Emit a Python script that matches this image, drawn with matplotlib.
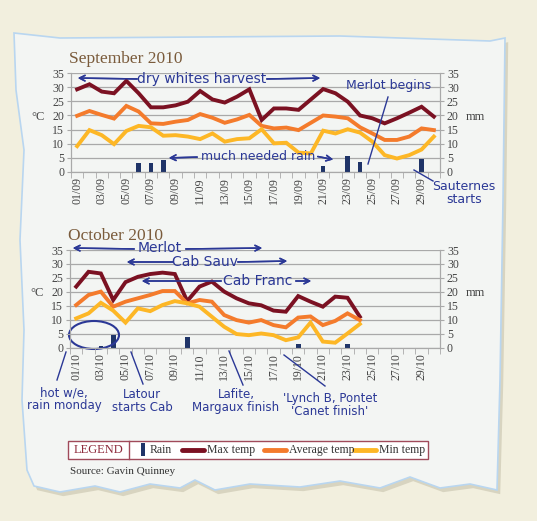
import matplotlib.pyplot as plt
import numpy as np
from matplotlib.patches import Polygon, Ellipse, Rectangle
from matplotlib.lines import Line2D

# ---- data ----
sep_days = ['%02d/09' % d for d in range(1, 31)]
sep_max = [29.3, 31.1, 28.5, 27.9, 32.3, 27.9, 22.9, 22.9, 23.6, 24.9,
           28.7, 25.7, 24.6, 26.7, 29.3, 18.4, 22.5, 22.5, 22.0, 25.7,
           29.4, 27.9, 24.9, 20.0, 19.0, 17.2, 19.0, 21.0, 23.1, 19.6]
sep_avg = [19.9, 21.6, 20.2, 18.9, 23.4, 21.4, 17.2, 17.0, 17.8, 18.4,
           20.5, 19.2, 17.4, 18.6, 20.2, 16.3, 15.4, 15.7, 14.8, 17.4,
           20.0, 19.6, 19.0, 15.8, 13.6, 11.3, 11.3, 12.5, 15.4, 14.8]
sep_min = [9.1, 14.8, 13.0, 9.8, 14.5, 16.3, 15.8, 12.8, 13.0, 12.5,
           11.6, 13.6, 10.7, 11.6, 11.9, 15.1, 10.1, 10.3, 6.8, 6.5,
           14.6, 13.6, 15.1, 13.9, 10.7, 5.9, 4.7, 5.9, 7.9, 12.5]
sep_rain = [0, 0, 0, 0, 0, 3.0, 3.0, 4.1, 0, 0,
            0, 0, 0, 0, 0, 0, 0, 0, 0, 0,
            2.1, 0, 5.6, 3.6, 0, 0, 0, 0, 4.6, 0]

oct_days = ['%02d/10' % d for d in range(1, 31)]
oct_max = [21.9, 27.2, 26.6, 17.1, 23.5, 25.4, 26.4, 26.9, 26.4, 16.7,
           21.9, 23.7, 20.1, 17.7, 15.9, 15.2, 13.3, 12.9, 18.5, 16.5,
           14.7, 18.3, 17.9, 11.1]
oct_avg = [15.3, 18.9, 20.1, 14.7, 16.5, 17.7, 18.9, 20.3, 20.3, 15.9,
           17.1, 16.5, 11.7, 9.9, 9.0, 9.9, 8.1, 7.3, 10.8, 11.2,
           8.1, 9.6, 12.3, 9.9]
oct_min = [10.5, 12.3, 16.1, 13.3, 9.0, 14.1, 13.1, 15.3, 16.7, 15.9,
           14.7, 11.1, 7.5, 4.9, 4.5, 5.1, 4.5, 2.7, 3.7, 9.0,
           2.2, 1.8, 5.1, 8.5]
oct_rain = [0, 0, 0.6, 4.5, 0, 0, 0, 0, 0, 3.7,
            0, 0, 0, 0, 0, 0, 0, 0, 1.2, 0,
            0, 0, 1.5, 0]

c_max = '#7b1122'
c_avg = '#f47b2c'
c_min = '#fdb726'
c_rain = '#1f3468'
c_pen = '#2b3896'
c_grid = '#a9a9a9'
serif = 'Liberation Serif'
hand = 'DejaVu Sans'

fig = plt.figure(figsize=(5.37, 5.21), dpi=100)
fig.patch.set_facecolor('#f2efde')

# torn paper sheet
W, H = 537.0, 521.0
edge = [(14, 33), (60, 38), (200, 37), (340, 36), (400, 38), (490, 41), (505, 38),
        (503, 200), (500, 380), (497, 490), (470, 484), (440, 488), (410, 477),
        (380, 488), (340, 481), (300, 487), (250, 484), (215, 490), (195, 480),
        (180, 488), (150, 484), (120, 492), (95, 486), (60, 492), (34, 486),
        (27, 470), (22, 400), (24, 330), (20, 240), (24, 150), (16, 90)]
shadow = Polygon([(x / W + 0.006, 1 - y / H - 0.008) for x, y in edge],
                 closed=True, transform=fig.transFigure, fc='#d8d4c0', ec='none', zorder=-2)
paper = Polygon([(x / W, 1 - y / H) for x, y in edge], closed=True,
                transform=fig.transFigure, fc='#f3f5f3', ec='#b9d6f0', lw=1.2, zorder=-1)
fig.patches.extend([shadow, paper])


def make_panel(rect, days, tmax, tavg, tmin, rain, title):
    ax = fig.add_axes(rect)
    ax2 = ax.twinx()
    n = len(days)
    x = np.arange(n)
    ax2.bar(np.arange(len(rain)), rain, width=0.38, color=c_rain, zorder=3)
    xt = np.arange(len(tmax))
    ax.plot(xt, tmax, color=c_max, lw=2.8, solid_joinstyle='miter', zorder=4)
    ax.plot(xt, tavg, color=c_avg, lw=2.8, solid_joinstyle='miter', zorder=4)
    ax.plot(xt, tmin, color=c_min, lw=2.8, solid_joinstyle='miter', zorder=4)
    for a in (ax, ax2):
        a.set_xlim(-0.5, n - 0.5)
        a.set_ylim(0, 35)
        a.set_yticks(range(0, 36, 5))
        a.tick_params(axis='y', labelsize=8.5, length=3, color=c_grid, pad=2)
        for lab in a.get_yticklabels():
            lab.set_fontfamily(serif)
            lab.set_color('#444444')
        for s in a.spines.values():
            s.set_color(c_grid)
        a.spines['top'].set_visible(False)
    ax2.set_zorder(0)
    ax2.patch.set_visible(False)
    ax2.xaxis.set_visible(False)
    ax.set_zorder(1)
    ax.patch.set_visible(False)
    ax2.grid(axis='y', color=c_grid, lw=0.9)
    ax2.set_axisbelow(True)
    ax.set_xticks(x[::2])
    ax.set_xticklabels(days[::2], rotation=90, fontsize=8.5, family=serif, color='#444444')
    ax.set_xticks(np.arange(n + 1) - 0.5, minor=True)
    ax.tick_params(axis='x', which='major', length=0, pad=4)
    ax.tick_params(axis='x', which='minor', length=4, color=c_grid)
    ax.text(-0.09, 0.53, '°C', transform=ax.transAxes, fontsize=9, family=serif,
            color='#444444', ha='center')
    ax.text(1.095, 0.53, 'mm', transform=ax.transAxes, fontsize=9, family=serif,
            color='#444444', ha='center')
    ax.text(-0.005, 1.06, title, transform=ax.transAxes, fontsize=12.5, family=serif,
            color='#7a5b3b', ha='left', va='bottom')
    return ax


def fx(px):
    return px / W


def fy(py):
    return 1 - py / H


def pen_text(x, y, s, size=9, ha='center'):
    fig.text(fx(x), fy(y), s, fontsize=size, family=hand, color=c_pen,
             ha=ha, va='center', linespacing=0.95, zorder=10)


def pen_arrow(x0, y0, x1, y1):
    fig.add_artist(plt.annotate('', xy=(fx(x1), fy(y1)), xytext=(fx(x0), fy(y0)),
                                xycoords='figure fraction',
                                arrowprops=dict(arrowstyle='->', color=c_pen, lw=1.1)))


def pen_line(x0, y0, x1, y1):
    fig.add_artist(Line2D([fx(x0), fx(x1)], [fy(y0), fy(y1)], color=c_pen, lw=1.0,
                          transform=fig.transFigure))


ax_sep = make_panel([0.1322, 0.6704, 0.6872, 0.1889], sep_days, sep_max, sep_avg,
                    sep_min, sep_rain, 'September 2010')
ax_oct = make_panel([0.1304, 0.3326, 0.6890, 0.1875], oct_days, oct_max, oct_avg,
                    oct_min, oct_rain, 'October 2010')

# September notes
pen_text(202, 79, 'dry whites harvest', 10)
pen_arrow(140, 79, 75, 78)
pen_arrow(264, 79, 323, 78)
pen_text(389, 86, 'Merlot begins', 9)
pen_line(388, 97, 368, 164)
pen_text(258, 157, 'much needed rain', 9)
pen_arrow(200, 157, 166, 158)
pen_arrow(315, 156, 336, 160)
pen_text(464, 193, 'Sauternes\nstarts', 9)
pen_line(414, 170, 433, 181)

# October notes
pen_text(160, 248, 'Merlot', 10)
pen_arrow(137, 249, 70, 248)
pen_arrow(183, 249, 265, 248)
pen_text(205, 262, 'Cab Sauv', 10)
pen_arrow(176, 262, 124, 262)
pen_arrow(235, 262, 290, 261)
pen_text(258, 281, 'Cab Franc', 10)
pen_arrow(224, 281, 139, 281)
pen_arrow(293, 281, 314, 281)
fig.add_artist(Ellipse((fx(94), fy(335)), 50 / W, 28 / H, fill=False, ec=c_pen, lw=1.5,
                       transform=fig.transFigure))
pen_line(66, 352, 57, 380)
pen_text(64, 399, 'hot w/e,\nrain monday', 8.5)
pen_line(131, 352, 143, 384)
pen_text(142, 401, 'Latour\nstarts Cab', 8.5)
pen_line(229, 351, 243, 385)
pen_text(236, 401, 'Lafite,\nMargaux finish', 8.5)
pen_line(284, 355, 325, 386)
pen_text(330, 405, "'Lynch B, Pontet\n'Canet finish'", 8.5)

# legend strip
fig.add_artist(Rectangle((fx(68), fy(459)), (428 - 68) / W, 18 / H, fc='white',
                         ec='#a04a5a', lw=1, transform=fig.transFigure, zorder=5))
fig.add_artist(Line2D([fx(129), fx(129)], [fy(459), fy(441)], color='#a04a5a', lw=1,
                      transform=fig.transFigure, zorder=6))
fig.text(fx(99), fy(450), 'LEGEND', fontsize=9, family=serif, color='#8e2b3c',
         ha='center', va='center', zorder=7)
fig.add_artist(Rectangle((fx(141), fy(456)), 4 / W, 13 / H, fc=c_rain, ec='none',
                         transform=fig.transFigure, zorder=7))
fig.text(fx(150), fy(450), 'Rain', fontsize=8.5, family=serif, color='#333333',
         va='center', zorder=7)
legend_items = [(182, 204, c_max, 'Max temp'), (264, 286, c_avg, 'Average temp'),
                (354, 376, c_min, 'Min temp')]
for x0, x1, col, lab in legend_items:
    fig.add_artist(Line2D([fx(x0), fx(x1)], [fy(450), fy(450)], color=col, lw=3.5,
                          solid_capstyle='round', transform=fig.transFigure, zorder=7))
    fig.text(fx(x1 + 3), fy(450), lab, fontsize=8.5, family=serif, color='#333333',
             va='center', zorder=7)

fig.text(fx(70), fy(472), 'Source: Gavin Quinney', fontsize=8, family=serif,
         color='#333333', va='center')

fig.savefig('out.png', dpi=100, facecolor=fig.get_facecolor())
